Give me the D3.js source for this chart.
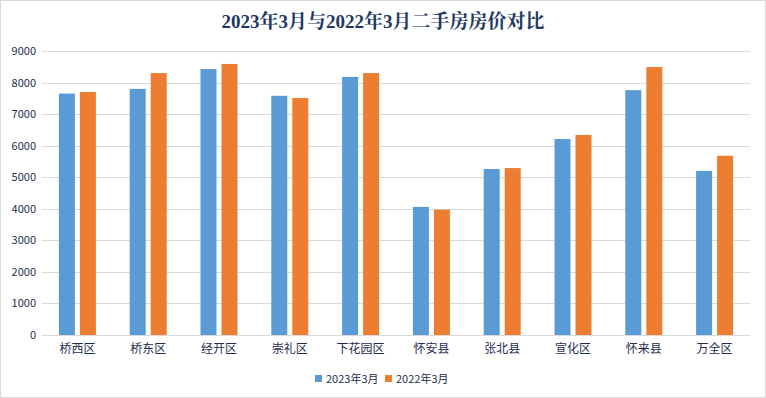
<!DOCTYPE html>
<meta charset="utf-8">
<style>
    body { margin: 0; background: #fff; }
    text { font-family: "Noto Sans CJK SC", "Noto Sans", sans-serif; fill: #1f2d4f; }
    .grid line { stroke: #d9d9d9; stroke-width: 1px; }
</style>
<svg width="766" height="398"></svg>
<script src="https://d3js.org/d3.v7.min.js"></script>
<script>
    var categories = ["桥西区", "桥东区", "经开区", "崇礼区", "下花园区", "怀安县", "张北县", "宣化区", "怀来县", "万全区"];
    var seriesNames = ["2023年3月", "2022年3月"];
    var values2023 = [7650, 7800, 8430, 7580, 8180, 4060, 5260, 6210, 7760, 5200];
    var values2022 = [7700, 8300, 8590, 7510, 8300, 3970, 5290, 6340, 8490, 5680];
    var yTicks = [0, 1000, 2000, 3000, 4000, 5000, 6000, 7000, 8000, 9000];
    var colors = ["#5b9bd5", "#ed7d31"];

    var svg = d3.select("svg"),
        width = +svg.attr("width"),
        height = +svg.attr("height");

    svg.append("rect")
        .attr("x", 0.5).attr("y", 0.5)
        .attr("width", width - 1).attr("height", height - 1)
        .attr("fill", "#fff").attr("stroke", "#d9d9d9");

    var margin = {left: 42, right: 16, top: 51, bottom: 63};
    var x0 = d3.scaleBand().domain(categories)
        .range([margin.left, width - margin.right]);
    var y = d3.scaleLinear().domain([0, 9000])
        .range([height - margin.bottom, margin.top]);

    var data = categories.map(function(c, i) {
        return {cat: c, vals: [values2023[i], values2022[i]]};
    });

    // gridlines
    svg.append("g").attr("class", "grid")
        .selectAll("line").data(yTicks).enter().append("line")
        .attr("x1", margin.left).attr("x2", width - margin.right)
        .attr("y1", function(d) { return Math.round(y(d)) + 0.5; })
        .attr("y2", function(d) { return Math.round(y(d)) + 0.5; });

    // y axis labels
    var yAxis = d3.axisLeft(y).tickValues(yTicks).tickFormat(d3.format("d")).tickSize(0).tickPadding(6);
    var gy = svg.append("g").attr("transform", "translate(" + margin.left + ",0)").call(yAxis);
    gy.select(".domain").remove();
    gy.selectAll("text").style("font-size", "11px").style("fill", "#1f2d4f")
        .attr("font-family", "Roboto, sans-serif");

    // bars
    var barW = 16, gap = 5;
    var groups = svg.append("g").selectAll("g").data(data).enter().append("g")
        .attr("transform", function(d) {
            return "translate(" + (x0(d.cat) + x0.bandwidth() / 2) + ",0)";
        });
    groups.selectAll("rect").data(function(d) { return d.vals; }).enter().append("rect")
        .attr("x", function(d, i) { return i === 0 ? -barW - gap / 2 : gap / 2; })
        .attr("y", function(d) { return y(d); })
        .attr("width", barW)
        .attr("height", function(d) { return y(0) - y(d); })
        .attr("fill", function(d, i) { return colors[i]; });

    // x axis labels
    var xAxis = d3.axisBottom(x0).tickSize(0).tickPadding(9);
    var gx = svg.append("g").attr("transform", "translate(0," + y(0) + ")").call(xAxis);
    gx.select(".domain").remove();
    gx.selectAll("text").style("font-size", "12px").style("fill", "#1f2d4f")
        .attr("font-family", "\"Noto Sans CJK SC\", sans-serif");

    // title
    svg.append("text")
        .attr("x", width / 2).attr("y", 28)
        .attr("text-anchor", "middle")
        .style("font-family", "\"Liberation Serif\", \"Noto Serif CJK SC\", \"Noto Sans CJK SC\", serif")
        .style("font-weight", "bold")
        .style("font-size", "19px")
        .style("fill", "#1f3864")
        .text("2023年3月与2022年3月二手房房价对比");

    // legend
    var legend = svg.append("g").attr("transform", "translate(315,379)");
    var items = legend.selectAll("g").data(seriesNames).enter().append("g")
        .attr("transform", function(d, i) { return "translate(" + (i * 70) + ",0)"; });
    items.append("rect")
        .attr("x", 0).attr("y", -4).attr("width", 7).attr("height", 7)
        .attr("fill", function(d, i) { return colors[i]; });
    items.append("text")
        .attr("x", 11).attr("y", 4)
        .style("font-size", "11px")
        .text(function(d) { return d; });
</script>
